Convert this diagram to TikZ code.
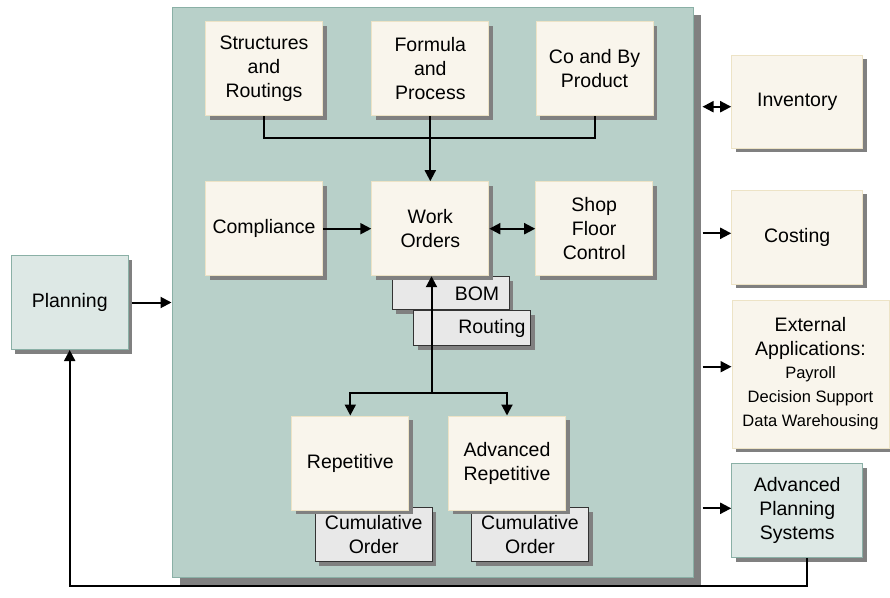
\documentclass[tikz,border=0pt]{standalone}
\usepackage{fontspec}
\setmainfont{Liberation Sans}
\usepackage{tikz}
\usetikzlibrary{arrows.meta,shadows}

\definecolor{panelfill}{HTML}{B8D0C9}
\definecolor{paneledge}{HTML}{8AB0A6}
\definecolor{creamfill}{HTML}{F9F5EC}
\definecolor{creamedge}{HTML}{EDE3C6}
\definecolor{greyfill}{HTML}{E8E8E8}
\definecolor{planfill}{HTML}{DDE8E5}
\definecolor{shadowgrey}{HTML}{808080}

\tikzset{
  shade4/.style={drop shadow={shadow xshift=4pt,shadow yshift=-4pt,fill=shadowgrey,opacity=1}},
  box/.style={shade4,draw=creamedge,fill=creamfill,line width=1pt,minimum width=117pt,
    minimum height=94pt,inner sep=2pt,align=center,font=\fontsize{19.5}{24}\selectfont},
  planbox/.style={box,draw=paneledge,fill=planfill},
  greybox/.style={shade4,draw=black!80,fill=greyfill,line width=0.8pt,minimum width=117pt,
    inner sep=0pt,font=\fontsize{19.5}{24}\selectfont},
  link/.style={line width=2pt}
}

\begin{document}
\begin{tikzpicture}[x=1pt,y=-1pt,>={Triangle[length=11pt,width=11pt]}]
    \useasboundingbox (0,0) rectangle (890,597);
    \node[draw=paneledge,fill=panelfill,line width=1pt,minimum width=521pt,minimum height=570pt,
      drop shadow={shadow xshift=8pt,shadow yshift=-8pt,fill=shadowgrey,opacity=1}] (panel) at (432.5,292) {};

    \node[box] (struct) at (264,68.7) {Structures\\and\\Routings};
    \node[box] (formula) at (430.3,68.7) {Formula\\and\\Process};
    \node[box] (coby) at (594.5,68.7) {Co and By\\Product};
    \node[box] (compliance) at (264,228.7) {Compliance};

    \node[greybox,minimum height=33pt,text width=97pt,align=right] (bom) at (450.7,293.3) {BOM};
    \node[greybox,minimum height=35pt,text width=107pt,align=right] (routing) at (472,328.2) {Routing};
    \node[box] (work) at (430.3,228.7) {Work\\Orders};
    \node[box] (shop) at (594.2,228.7) {Shop\\Floor\\Control};

    \node[greybox,minimum height=54pt,align=center] (cum1) at (373.7,534.5) {Cumulative\\Order};
    \node[greybox,minimum height=54pt,align=center] (cum2) at (530,534.5) {Cumulative\\Order};
    \node[box] (rep) at (350.3,463) {Repetitive};
    \node[box] (adv) at (507,463) {Advanced\\Repetitive};

    \node[box,minimum width=131pt,minimum height=93pt] (inventory) at (797.2,101.7) {Inventory};
    \node[box,minimum width=131pt] (costing) at (797.2,237) {Costing};
    \node[box,minimum width=157pt,minimum height=148pt] (ext) at (810.5,374)
      {External\\Applications:\\[-1pt]{\fontsize{16.5}{22.5}\selectfont Payroll}\\
       {\fontsize{16.5}{22.5}\selectfont Decision Support}\\{\fontsize{16.5}{22.5}\selectfont Data Warehousing}};
    \node[planbox,minimum width=131pt] (aps) at (797.2,510.5) {Advanced\\Planning\\Systems};
    \node[planbox] (planning) at (69.7,302.5) {Planning};

    \draw[link] (struct.south) -- ++(0,22) -| (coby.south);
    \draw[link,->] (formula.south) -- (work.north);
    \draw[link,->] (compliance.east) -- (work.west);
    \draw[link,<->] (work.east) -- (shop.west);
    \coordinate (split) at (431.5,392.7);
    \draw[link,->] (split) -- (work.south -| split);
    \draw[link,->] (split) -| (rep.north);
    \draw[link,->] (split) -| (adv.north);

    \draw[link,<->] ([xshift=9pt,yshift=-5pt]panel.east |- inventory.west) -- ([yshift=-5pt]inventory.west);
    \draw[link,->] ([xshift=9pt,yshift=3.7pt]panel.east |- costing.west) -- ([yshift=3.7pt]costing.west);
    \draw[link,->] ([xshift=9pt,yshift=7.3pt]panel.east |- ext.west) -- ([yshift=7.3pt]ext.west);
    \draw[link,->] ([xshift=9pt,yshift=2.2pt]panel.east |- aps.west) -- ([yshift=2.2pt]aps.west);
    \draw[link,->] ([xshift=3pt]planning.east) -- (panel.west |- planning.east);
    \draw[link,->] ([xshift=9.5pt]aps.south) -- ++(0,28.3) -| (planning.south);
\end{tikzpicture}
\end{document}
